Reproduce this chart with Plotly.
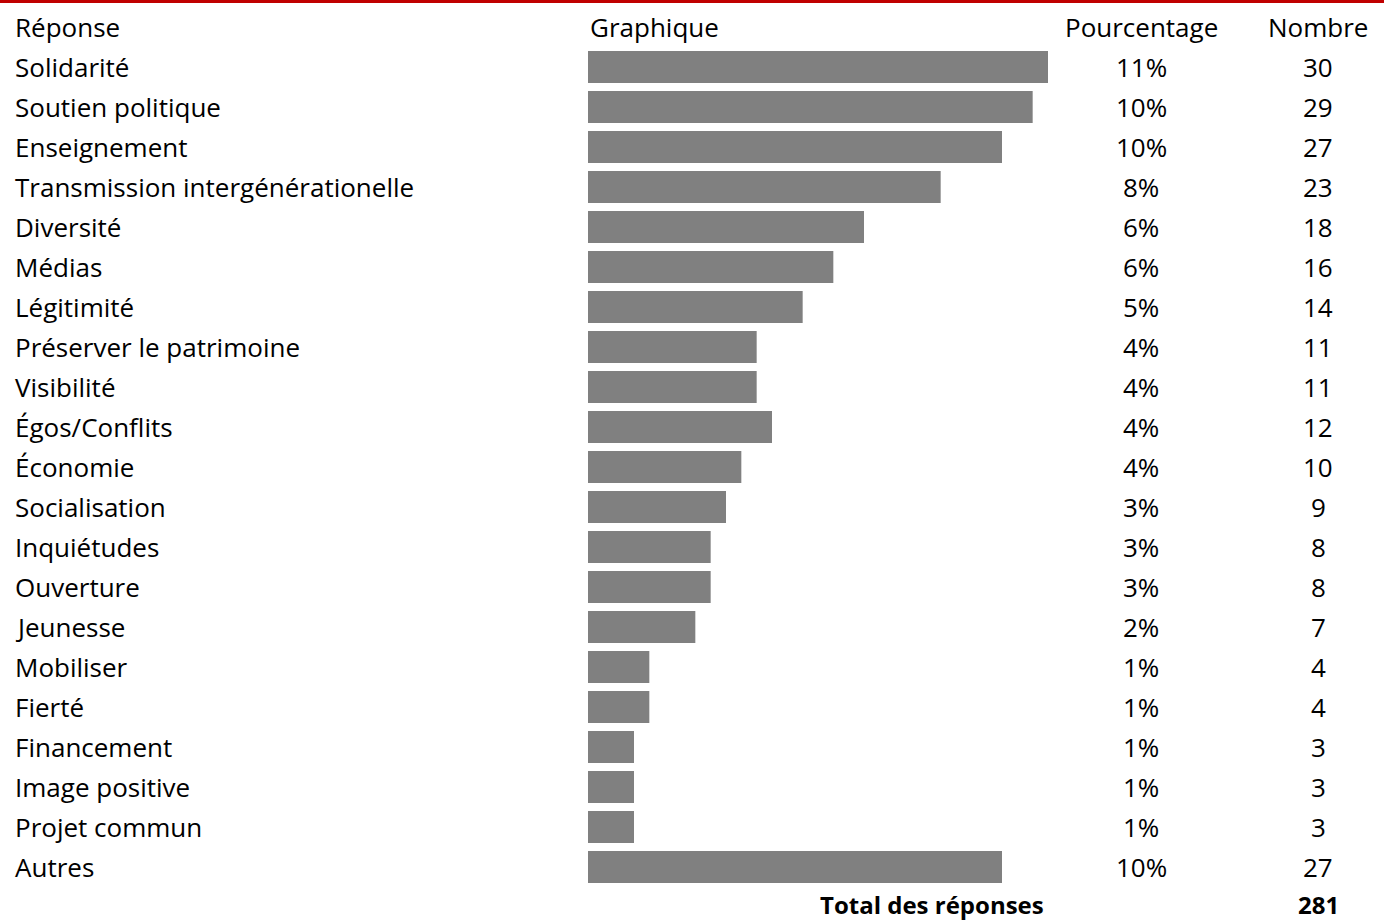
import plotly.graph_objects as go

reponses = ['Solidarité', 'Soutien politique', 'Enseignement', 'Transmission intergénérationelle',
            'Diversité', 'Médias', 'Légitimité', 'Préserver le patrimoine', 'Visibilité',
            'Égos/Conflits', 'Économie', 'Socialisation', 'Inquiétudes', 'Ouverture', 'Jeunesse',
            'Mobiliser', 'Fierté', 'Financement', 'Image positive', 'Projet commun', 'Autres']
nombres = [30, 29, 27, 23, 18, 16, 14, 11, 11, 12, 10, 9, 8, 8, 7, 4, 4, 3, 3, 3, 27]
pourcentages = ['11%', '10%', '10%', '8%', '6%', '6%', '5%', '4%', '4%', '4%', '4%',
                '3%', '3%', '3%', '2%', '1%', '1%', '1%', '1%', '1%', '10%']
entetes = ['Réponse', 'Graphique', 'Pourcentage', 'Nombre']
total_label = 'Total des réponses'
total = 281

W, H = 1384, 922
FONT = 'Open Sans'
FS = 26
rows = list(range(len(reponses)))

fig = go.Figure(go.Bar(x=nombres, y=rows, orientation='h', width=0.8,
                       marker=dict(color='#808080', line_width=0), hoverinfo='skip'))

# pixel -> paper x
def px(x):
    return x / W

ann = []
def txt(x, y, s, anchor='left', bold=False, size=FS):
    ann.append(dict(x=px(x), y=y, xref='paper', yref='y', text=f'<b>{s}</b>' if bold else s,
                    showarrow=False, xanchor=anchor, yanchor='middle',
                    font=dict(family=FONT, size=size, color='black')))

# header row (row index -1)
txt(13, -1, entetes[0])
txt(588, -1, entetes[1])
txt(1141, -1, entetes[2], 'center')
txt(1318, -1, entetes[3], 'center')

for i, r in enumerate(reponses):
    txt(13, i, r)
    txt(1141, i, pourcentages[i], 'center')
    txt(1318, i, str(nombres[i]), 'center')

# total row, nudged up a little so it stays inside the page
n = len(reponses)
txt(1046, n - 0.06, total_label, 'right', bold=True, size=24)
txt(1318, n - 0.06, str(total), 'center', bold=True, size=24)

fig.update_layout(
    width=W, height=H,
    margin=dict(l=0, r=0, t=0, b=0),
    paper_bgcolor='white', plot_bgcolor='white',
    showlegend=False,
    annotations=ann,
    xaxis=dict(domain=[588 / W, 1048 / W], range=[0, 30], visible=False, fixedrange=True),
    yaxis=dict(domain=[0, 1], range=[(H - 67) / 40, -67 / 40], visible=False, fixedrange=True),
    shapes=[dict(type='rect', xref='paper', yref='paper', x0=0, x1=1, y0=1 - 3 / H, y1=1,
                 fillcolor='#C00000', line_width=0)],
)

# drop the default body margin so the figure sits at the page corner
fig.write_html("out.html", config={'displayModeBar': False},
               post_script="document.body.style.margin='0';document.body.style.overflow='hidden';")
